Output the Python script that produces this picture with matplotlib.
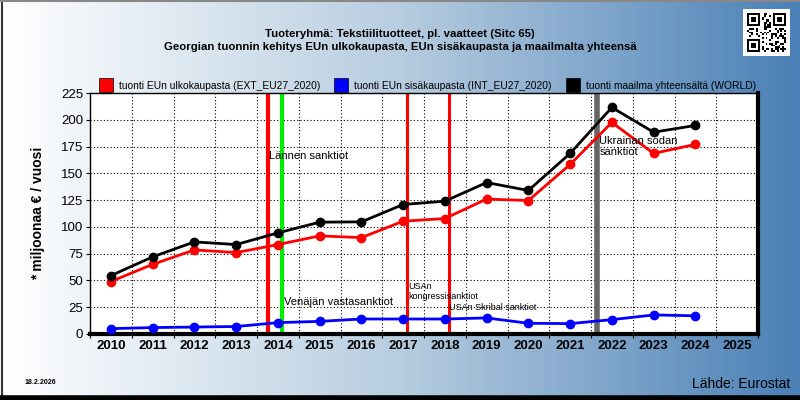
import numpy as np
import matplotlib
matplotlib.use("Agg")
import matplotlib.pyplot as plt
from matplotlib.patches import Rectangle
from matplotlib.lines import Line2D

plt.rcParams["font.family"] = ["Liberation Sans", "DejaVu Sans"]

years = list(range(2010, 2025))
ext_eu = [49, 65, 78.5, 76, 83.5, 91.6, 90, 105.3, 107.8, 126, 124.6, 158.3, 197.5, 168.6, 177]
int_eu = [5, 6, 6.5, 7, 10.6, 11.8, 14, 14, 14, 15, 10, 9.7, 13.4, 17.8, 17]
world = [54.5, 72, 86, 83.5, 94.4, 104.4, 104.7, 120.9, 124, 141.4, 134, 168.6, 211.5, 188.4, 194.7]

series_labels = ["tuonti EUn ulkokaupasta (EXT_EU27_2020)",
                 "tuonti EUn sisäkaupasta (INT_EU27_2020)",
                 "tuonti maailma yhteensältä (WORLD)"]
series_colors = ["#ff0000", "#0000ff", "#000000"]

event_x = [2013.77, 2014.1, 2017.1, 2018.09, 2021.64]
event_colors = ["#ff0000", "#00ee00", "#ff0000", "#ff0000", "#666666"]
event_widths = [3, 3, 2.2, 2.2, 4]

notes = [
    (2013.78, 166, "Lännen sanktiot", 8),
    (2014.14, 30, "Venäjän vastasanktiot", 8),
    (2017.12, 40, "USAn\nkongressisanktiot", 6.5),
    (2018.11, 25, "USAn Skribal sanktiot", 6.5),
    (2021.7, 175, "Ukrainan sodan\nsanktiot", 8),
]

xtick_years = list(range(2010, 2026))
ytick_vals = list(range(0, 226, 25))

W, H = 800, 400
fig = plt.figure(figsize=(8, 4), dpi=100)

# gradient background
bg = fig.add_axes([0, 0, 1, 1], zorder=-10)
grad = np.linspace(0, 1, 256).reshape(1, -1)
cmap = matplotlib.colors.LinearSegmentedColormap.from_list(
    "bg", ["#ffffff", "#b7cde0", "#4a80b6"])
bg.imshow(grad, aspect="auto", cmap=cmap, extent=[0, 1, 0, 1])
bg.set_xlim(0, 1)
bg.set_ylim(0, 1)
bg.axis("off")

# figure frame
fig.add_artist(Line2D([2 / W, 2 / W], [0, 1], color="#333333", lw=1.5))
fig.add_artist(Line2D([0, 1], [1 - 1 / H, 1 - 1 / H], color="#888888", lw=1.5))
fig.add_artist(Line2D([0, 1], [2 / H, 2 / H], color="black", lw=4))

# plot area
x0, x1, ytop, ybot = 90, 758, 93, 334
ax = fig.add_axes([x0 / W, 1 - ybot / H, (x1 - x0) / W, (ybot - ytop) / H])
ax.set_facecolor("white")
ax.set_xlim(2009.5, 2025.5)
ax.set_ylim(0, 225)

for v in ytick_vals[1:-1]:
    ax.axhline(v, color="black", lw=0.8, ls=(0, (1, 2)), zorder=1)
for xv in np.arange(2010.5, 2025.5, 1):
    ax.axvline(xv, color="black", lw=0.8, ls=(0, (1, 2)), zorder=1)

for xv, c, w in zip(event_x, event_colors, event_widths):
    ax.axvline(xv, color=c, lw=w, zorder=2)

for vals, c in zip([int_eu, ext_eu, world], [series_colors[1], series_colors[0], series_colors[2]]):
    ax.plot(years, vals, color=c, lw=2, marker="o", ms=6, zorder=4)

for xv, yv, txt, fs in notes:
    ax.text(xv, yv, txt, fontsize=fs, color="black", ha="left", va="center",
            linespacing=1.1, zorder=5)

ax.set_yticks(ytick_vals)
ax.set_yticklabels([str(v) for v in ytick_vals], fontsize=9.5)
ax.set_xticks(np.arange(2009.5, 2025.6, 1), minor=False)
ax.set_xticklabels([])
ax.set_xticks(xtick_years, minor=True)
ax.set_xticklabels([str(y) for y in xtick_years], minor=True, fontsize=9.5, fontweight="bold")
ax.tick_params(axis="x", which="minor", length=0, pad=4)
ax.tick_params(axis="x", which="major", length=3, direction="out")
ax.tick_params(axis="y", length=3, direction="out", pad=2)

for s in ["left", "top"]:
    ax.spines[s].set_linewidth(1)
for s in ["right", "bottom"]:
    ax.spines[s].set_linewidth(3)

fig.text(38 / W, 1 - 213 / H, "* miljoonaa € / vuosi", rotation=90, fontsize=10,
         fontweight="bold", ha="center", va="center")

# titles
fig.text(400 / W, 1 - 34 / H, "Tuoteryhmä: Tekstiilituotteet, pl. vaatteet (Sitc 65)",
         fontsize=8.2, fontweight="bold", ha="center", va="center")
fig.text(400 / W, 1 - 47 / H,
         "Georgian tuonnin kehitys EUn ulkokaupasta, EUn sisäkaupasta ja maailmalta yhteensä",
         fontsize=8.2, fontweight="bold", ha="center", va="center")

# legend
leg_x = [99, 334, 566]
for lx, lab, c in zip(leg_x, series_labels, series_colors):
    fig.add_artist(Rectangle((lx / W, 1 - 92 / H), 14 / W, 14 / H, facecolor=c,
                             edgecolor="black", lw=0.5))
    fig.text((lx + 20) / W, 1 - 86 / H, lab, fontsize=7.4, ha="left", va="center")

fig.text(25 / W, 1 - 383 / H, "18.2.2026", fontsize=5, fontweight="bold", ha="left", va="center")
fig.text(790 / W, 1 - 384 / H, "Lähde: Eurostat", fontsize=10, ha="right", va="center")

# QR-like badge
qx, qy, qs = 743, 9, 47
qbox = fig.add_axes([qx / W, 1 - (qy + qs) / H, qs / W, qs / H], zorder=5)
qbox.set_facecolor("white")
qbox.set_xticks([])
qbox.set_yticks([])
for s in qbox.spines.values():
    s.set_visible(False)
qr = fig.add_axes([(qx + 4) / W, 1 - (qy + qs - 4) / H, (qs - 8) / W, (qs - 8) / H], zorder=6)
n = 21
grid = np.zeros((n, n))
bits = np.unpackbits(np.frombuffer("Georgia Sitc 65 Eurostat EXT INT WORLD 2010-2024 tekstiilit".encode(),
                                   dtype=np.uint8))
grid.flat[:] = bits[:n * n]
for (r, c) in [(0, 0), (0, n - 7), (n - 7, 0)]:
    rs = slice(max(r - 1, 0), min(r + 8, n))
    cs = slice(max(c - 1, 0), min(c + 8, n))
    grid[rs, cs] = 0
    grid[r:r + 7, c:c + 7] = 1
    grid[r + 1:r + 6, c + 1:c + 6] = 0
    grid[r + 2:r + 5, c + 2:c + 5] = 1
qr.imshow(grid, cmap="Greys", vmin=0, vmax=1, interpolation="nearest", aspect="auto")
qr.axis("off")

fig.savefig("out.png", dpi=100)
